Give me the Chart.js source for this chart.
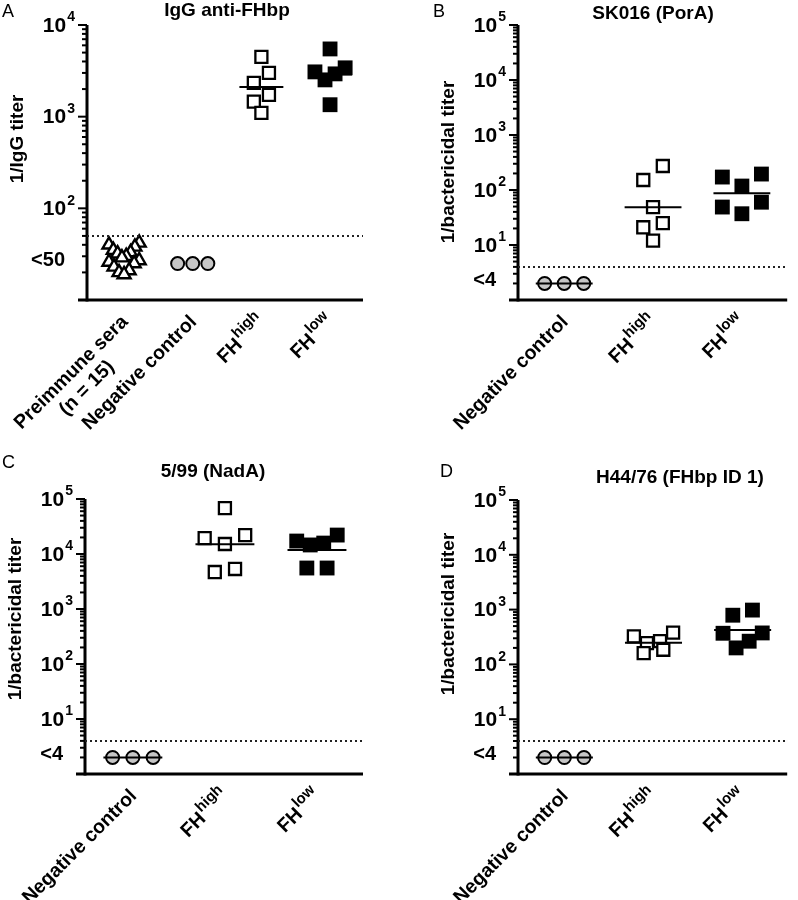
<!DOCTYPE html>
<html>
<head>
<meta charset="utf-8">
<script src="https://cdn.jsdelivr.net/npm/chart.js@4.4.1/dist/chart.umd.min.js"></script>
<style>
  html, body { margin: 0; padding: 0; background: #fff; }
  #wrap { position: relative; width: 798px; height: 900px; }
  .panel { position: absolute; width: 399px; height: 450px; }
</style>
</head>
<body>
<div id="wrap">
  <div class="panel" style="left:0;top:0"><canvas id="panelA" width="399" height="450"></canvas></div>
  <div class="panel" style="left:399px;top:0"><canvas id="panelB" width="399" height="450"></canvas></div>
  <div class="panel" style="left:0;top:450px"><canvas id="panelC" width="399" height="450"></canvas></div>
  <div class="panel" style="left:399px;top:450px"><canvas id="panelD" width="399" height="450"></canvas></div>
</div>
<script>
// labels
const panelLetters = ['A', 'B', 'C', 'D'];
const panelTitles = ['IgG anti-FHbp', 'SK016 (PorA)', '5/99 (NadA)', 'H44/76 (FHbp ID 1)'];
const axisTitles = ['1/IgG titer', '1/bactericidal titer', '1/bactericidal titer', '1/bactericidal titer'];
const categoriesA = ['Preimmune sera\n(n = 15)', 'Negative control', 'FH^high', 'FH^low'];
const categoriesBCD = ['Negative control', 'FH^high', 'FH^low'];

// titers
const preimmuneA = [42, 40, 38, 35, 33, 32, 30, 29, 27, 26, 25, 23, 21, 20, 19];
const negControlA = [25, 25, 25];
const fhHighA = [4490, 3000, 2340, 1730, 1460, 1100];
const fhLowA = [5480, 3410, 3080, 2930, 2520, 1350];

const negControlB = [2, 2, 2];
const fhHighB = [273, 152, 49, 25, 21, 12];
const fhLowB = [195, 172, 118, 60, 49, 37];

const negControlC = [2, 2, 2];
const fhHighC = [68500, 22100, 19500, 15200, 5340, 4700];
const fhLowC = [22100, 17200, 15800, 14600, 5560, 5560];

const negControlD = [2, 2, 2];
const fhHighD = [380, 325, 265, 245, 185, 160];
const fhLowD = [980, 790, 375, 370, 265, 200];

// axis ranges, detection limits
const yRanges = [[10, 1e4], [1, 1e5], [1, 1e5], [1, 1e5]];
const detectionLimits = [50, 4, 4, 4];
const limitLabels = ['<50', '<4', '<4', '<4'];
const limitLabelValues = [25, 2, 2, 2];

const panels = [
  { id: 'panelA', categories: categoriesA, groups: [preimmuneA, negControlA, fhHighA, fhLowA],
    kinds: ['triangle', 'circle', 'open', 'filled'], meanShown: [false, false, true, true] },
  { id: 'panelB', categories: categoriesBCD, groups: [negControlB, fhHighB, fhLowB],
    kinds: ['circle', 'open', 'filled'], meanShown: [true, true, true] },
  { id: 'panelC', categories: categoriesBCD, groups: [negControlC, fhHighC, fhLowC],
    kinds: ['circle', 'open', 'filled'], meanShown: [true, true, true] },
  { id: 'panelD', categories: categoriesBCD, groups: [negControlD, fhHighD, fhLowD],
    kinds: ['circle', 'open', 'filled'], meanShown: [true, true, true] }
];

// placement of each panel inside its canvas
const layouts = [
  { left: 87, right: 363, top: 25, bottom: 300, xMin: -0.54, xMax: 3.48, letterX: 2, letterY: 17, titleX: 227, titleY: 16, axisTitleY: 139 },
  { left: 119, right: 398, top: 25, bottom: 300, xMin: -0.52, xMax: 2.51, letterX: 34, letterY: 17, titleX: 254, titleY: 19, axisTitleY: 162 },
  { left: 85, right: 363, top: 49, bottom: 324, xMin: -0.52, xMax: 2.5, letterX: 2, letterY: 18, titleX: 213, titleY: 27, axisTitleY: 169 },
  { left: 119, right: 398, top: 50, bottom: 324, xMin: -0.52, xMax: 2.5, letterX: 41, letterY: 27, titleX: 281, titleY: 33, axisTitleY: 164 }
];

const markers = {
  triangle: { pointStyle: 'triangle', radius: 7.5, bg: '#fff', border: 2.4 },
  circle: { pointStyle: 'circle', radius: 6.5, bg: '#c6c6c6', border: 2 },
  open: { pointStyle: 'rect', radius: 8.5, bg: '#fff', border: 2.3 },
  filled: { pointStyle: 'rect', radius: 10.5, bg: '#000', border: 0 }
};

const FONT = '"Liberation Sans", Arial, sans-serif';

function geoMean(vals) {
  return Math.pow(10, vals.reduce((s, v) => s + Math.log10(v), 0) / vals.length);
}

// dot plot layout: points falling in the same row are spread symmetrically
function dotPlotOffsets(values, pixelOf, catW, binH) {
  const idx = values.map((v, i) => i).sort((a, b) => values[b] - values[a]);
  const offsets = new Array(values.length).fill(0);
  let row = [], rowStart = 0;
  const flush = () => {
    const n = row.length;
    const s = n > 1 ? Math.min(0.22 * catW, 0.44 * catW / (n - 1)) : 0;
    const slots = [];
    for (let j = 0; j < Math.floor(n / 2); j++) {
      const p = ((n - 1) / 2 - j) * s;
      slots.push(p, -p);
    }
    if (n % 2) slots.push(0);
    row.forEach((i, k) => { offsets[i] = slots[k]; });
    row = [];
  };
  idx.forEach(i => {
    const py = pixelOf(values[i]);
    if (row.length && py - rowStart >= binH) flush();
    if (!row.length) rowStart = py;
    row.push(i);
  });
  flush();
  return offsets;
}

function drawRich(ctx, text, x, y, size, supSize) {
  // "FH^high" -> FH with superscript "high"; x is left edge, y middle
  const parts = text.split('^');
  ctx.textAlign = 'left';
  ctx.textBaseline = 'middle';
  ctx.font = 'bold ' + size + 'px ' + FONT;
  ctx.fillText(parts[0], x, y);
  const w = ctx.measureText(parts[0]).width;
  if (parts[1]) {
    ctx.font = 'bold ' + supSize + 'px ' + FONT;
    ctx.fillText(parts[1], x + w + 1, y - size * 0.4);
  }
}

function richWidth(ctx, text, size, supSize) {
  const parts = text.split('^');
  ctx.font = 'bold ' + size + 'px ' + FONT;
  let w = ctx.measureText(parts[0]).width;
  if (parts[1]) {
    ctx.font = 'bold ' + supSize + 'px ' + FONT;
    w += ctx.measureText(parts[1]).width + 1;
  }
  return w;
}

const decor = {
  id: 'decor',
  beforeDatasetsDraw(chart, args, opts) {
    const i = opts.index;
    const L = layouts[i];
    const panel = panels[i];
    const { ctx, chartArea: a } = chart;
    const x = chart.scales.x, y = chart.scales.y;
    const [yMin, yMax] = yRanges[i];
    ctx.save();
    ctx.strokeStyle = '#000';
    ctx.fillStyle = '#000';

    // axes
    ctx.lineWidth = 3;
    ctx.beginPath(); ctx.moveTo(a.left, a.top); ctx.lineTo(a.left, a.bottom + 1.5); ctx.stroke();
    ctx.beginPath(); ctx.moveTo(a.left - 9, a.bottom); ctx.lineTo(a.right, a.bottom); ctx.stroke();

    // log ticks
    ctx.lineWidth = 2;
    const e0 = Math.round(Math.log10(yMin)), e1 = Math.round(Math.log10(yMax));
    for (let e = e0; e <= e1; e++) {
      for (let k = 1; k <= 9; k++) {
        const v = k * Math.pow(10, e);
        if (v <= yMin || v > yMax) continue;
        const py = y.getPixelForValue(v);
        const len = k === 1 ? 9 : 5;
        ctx.beginPath(); ctx.moveTo(a.left - len, py); ctx.lineTo(a.left, py); ctx.stroke();
      }
    }

    // tick labels 10^n
    for (let e = e0 + 1; e <= e1; e++) {
      const py = y.getPixelForValue(Math.pow(10, e));
      const t = '10^' + e;
      drawRich(ctx, t, a.left - 12 - richWidth(ctx, t, 21, 14), py + 1, 21, 14);
    }
    ctx.font = 'bold 20px ' + FONT;
    ctx.textAlign = 'right';
    ctx.textBaseline = 'middle';
    ctx.fillText(limitLabels[i], a.left - 22, y.getPixelForValue(limitLabelValues[i]) - 3);

    // category labels, rotated
    panel.categories.forEach((label, c) => {
      const cx = x.getPixelForValue(c);
      const lines = label.split('\n');
      const widths = lines.map(l => richWidth(ctx, l, 19.5, 15));
      const W = Math.max(...widths);
      ctx.save();
      ctx.translate(cx + 1, a.bottom + 19);
      ctx.rotate(-Math.PI / 4);
      lines.forEach((l, k) => drawRich(ctx, l, -W / 2 - widths[k] / 2, k * 22, 19.5, 15));
      ctx.restore();
    });

    // y axis title
    ctx.save();
    ctx.translate(a.left - 69, L.axisTitleY);
    ctx.rotate(-Math.PI / 2);
    ctx.font = 'bold 19px ' + FONT;
    ctx.textAlign = 'center';
    ctx.textBaseline = 'middle';
    ctx.fillText(axisTitles[i], 0, 0);
    ctx.restore();

    // panel title and letter
    ctx.font = 'bold 19px ' + FONT;
    ctx.textAlign = 'center';
    ctx.textBaseline = 'alphabetic';
    ctx.fillText(panelTitles[i], L.titleX, L.titleY);
    ctx.font = '18px ' + FONT;
    ctx.textAlign = 'left';
    ctx.fillText(panelLetters[i], L.letterX, L.letterY);
    ctx.restore();
  }
};

panels.forEach((panel, i) => {
  const L = layouts[i];
  const [yMin, yMax] = yRanges[i];
  const datasets = [];

  // dotted detection limit
  datasets.push({
    type: 'line', showLine: true, order: -1,
    data: [{ x: L.xMin, y: detectionLimits[i] }, { x: L.xMax, y: detectionLimits[i] }],
    borderColor: '#222', borderWidth: 2, borderDash: [2, 3], pointRadius: 0, clip: false
  });

  panel.groups.forEach((vals, g) => {
    const m = markers[panel.kinds[g]];
    datasets.push({
      type: 'scatter', groupIndex: g,
      data: vals.map(v => ({ x: g, y: v })),
      pointStyle: m.pointStyle, pointRadius: m.radius,
      backgroundColor: m.bg, borderColor: '#000', borderWidth: m.border, clip: false
    });
    if (panel.meanShown[g]) {
      const gm = geoMean(vals);
      datasets.push({
        type: 'line', showLine: true, order: -2,
        data: [{ x: g - 0.32, y: gm }, { x: g + 0.32, y: gm }],
        borderColor: '#000', borderWidth: 2, pointRadius: 0, clip: false
      });
    }
  });

  const chart = new Chart(document.getElementById(panel.id), {
    type: 'scatter',
    data: { datasets },
    options: {
      responsive: false,
      animation: false,
      layout: { padding: { left: L.left, top: L.top, right: 399 - L.right, bottom: 450 - L.bottom } },
      scales: {
        x: { type: 'linear', min: L.xMin, max: L.xMax, display: false },
        y: { type: 'logarithmic', min: yMin, max: yMax, display: false }
      },
      plugins: { legend: { display: false }, tooltip: { enabled: false }, decor: { index: i } }
    },
    plugins: [decor]
  });

  // spread each group now that the scales exist
  const xs = chart.scales.x, ys = chart.scales.y;
  const catW = xs.getPixelForValue(1) - xs.getPixelForValue(0);
  chart.data.datasets.forEach(ds => {
    if (ds.groupIndex === undefined) return;
    const g = ds.groupIndex;
    const vals = panel.groups[g];
    const cx = xs.getPixelForValue(g);
    const offs = dotPlotOffsets(vals, v => ys.getPixelForValue(v), catW, 15);
    ds.data = vals.map((v, k) => ({ x: xs.getValueForPixel(cx + offs[k]), y: v }));
  });
  chart.update('none');
});
</script>
</body>
</html>
